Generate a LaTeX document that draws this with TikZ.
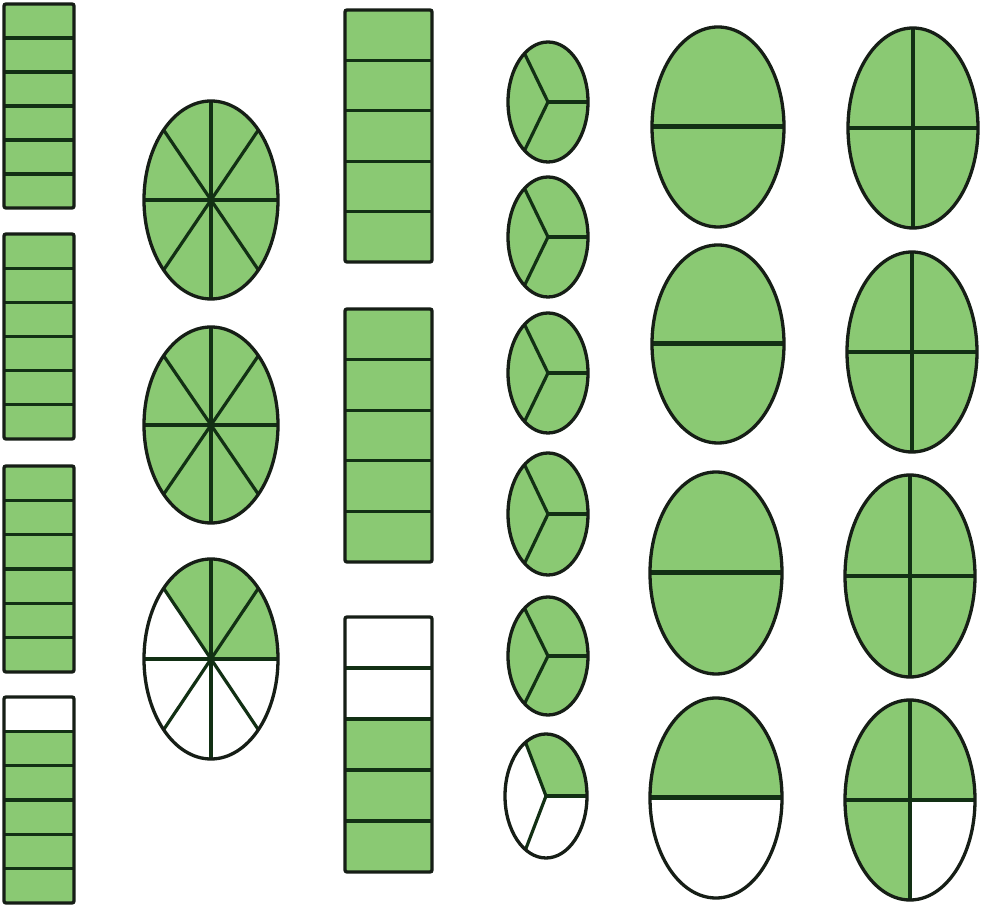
\documentclass[tikz,border=0pt]{standalone}
\usetikzlibrary{calc}
\definecolor{fillg}{RGB}{138,201,115}
\definecolor{edgek}{RGB}{22,30,22}
\definecolor{divg}{RGB}{18,48,20}
\tikzset{
  shade/.style={fill=fillg},
  outline/.style={draw=edgek,line width=3.3pt},
  divider/.style={draw=divg,line width=3.2pt},
  thickdiv/.style={draw=divg,line width=5pt},
}
% rectangle: x1, ytop, x2, ybot, parts, white parts from top
\newcommand\fracrect[6]{%
  \pgfmathsetmacro\hh{(#2-#4)/#5}
  \pgfmathsetmacro\gt{#2-#6*\hh}
  \fill[white] (#1,#4) rectangle (#3,#2);
  \fill[shade] (#1,#4) rectangle (#3,\gt);
  \pgfmathtruncatemacro\nn{#5-1}
  \foreach \i in {1,...,\nn}{
    \pgfmathsetmacro\yy{#2-\i*\hh}
    \draw[divider] (#1,\yy) -- (#3,\yy);
  }
  \draw[outline,rounded corners=2pt] (#1,#4) rectangle (#3,#2);
}
% ellipse: cx, cy, rx, ry, green end angle, rays, divider style
\newcommand\fracell[7]{%
  \fill[white] (#1,#2) ellipse[x radius=#3,y radius=#4];
  \fill[shade] (#1,#2) -- ++(0:#3 and #4) arc[start angle=0,end angle=#5,x radius=#3,y radius=#4] -- cycle;
  \foreach \a in {#6} \draw[#7] (#1,#2) -- ++(\a:#3 and #4);
  \draw[outline] (#1,#2) ellipse[x radius=#3,y radius=#4];
}
\begin{document}
\begin{tikzpicture}[x=1pt,y=1pt]
\useasboundingbox (0,0) rectangle (985,907);
\fill[white] (0,0) rectangle (985,907);
% column 1
\fracrect{4}{903}{74}{699}{6}{0}
\fracrect{4}{673}{74}{468}{6}{0}
\fracrect{4}{441}{74}{235}{6}{0}
\fracrect{4}{210}{74}{4}{6}{1}
% column 2
\fracell{211}{707}{67}{99}{360}{0,45,...,315}{divider}
\fracell{211}{482}{67}{98}{360}{0,45,...,315}{divider}
\fracell{211}{248}{67}{100}{135}{0,45,...,315}{divider}
% column 3
\fracrect{345}{897}{432}{645}{5}{0}
\fracrect{345}{598}{432}{345}{5}{0}
\fracrect{345}{290}{432}{35}{5}{2}
% column 4
\fracell{548}{805}{40}{60}{360}{0,126,234}{divider}
\fracell{548}{670}{40}{60}{360}{0,126,234}{divider}
\fracell{548}{534}{40}{60}{360}{0,126,234}{divider}
\fracell{548}{393}{40}{61}{360}{0,126,234}{divider}
\fracell{548}{251}{40}{59}{360}{0,126,234}{divider}
\fracell{546}{111}{41}{62}{120}{0,120,240}{divider}
% column 5
\fracell{718}{780}{66}{100}{360}{0,180}{thickdiv}
\fracell{718}{563}{66}{99}{360}{0,180}{thickdiv}
\fracell{716}{334}{66}{101}{360}{0,180}{thickdiv}
\fracell{716}{109}{66}{100}{180}{0,180}{thickdiv}
% column 6
\fracell{913}{779}{65}{100}{360}{0,90,180,270}{divider}
\fracell{912}{555}{65}{100}{360}{0,90,180,270}{divider}
\fracell{910}{331}{65}{101}{360}{0,90,180,270}{divider}
\fracell{910}{107}{65}{100}{270}{0,90,180,270}{divider}
\end{tikzpicture}
\end{document}
